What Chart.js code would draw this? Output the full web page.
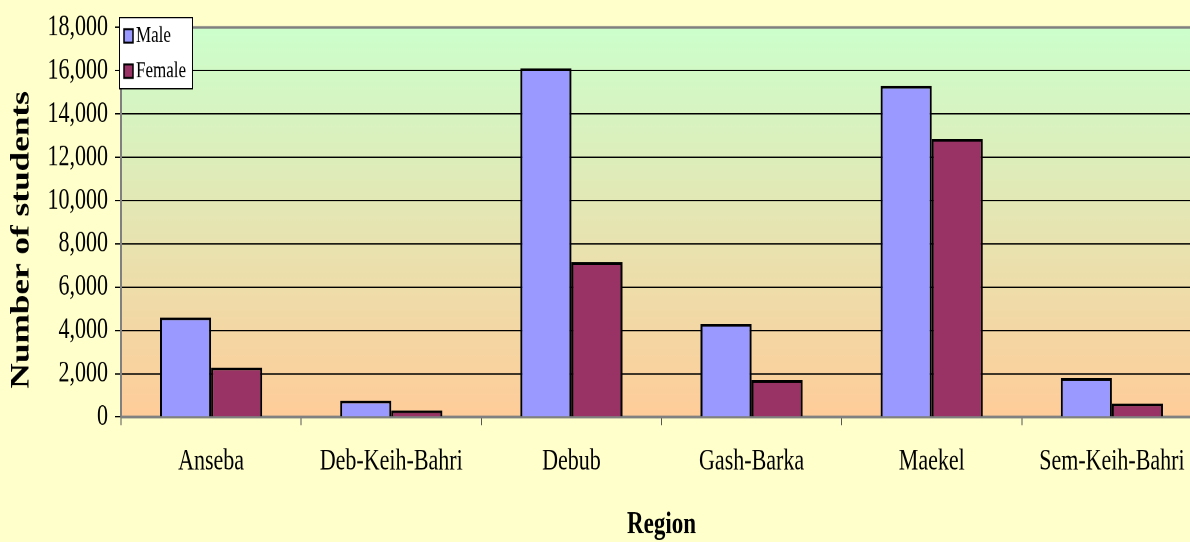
<!DOCTYPE html>
<html>
<head>
<meta charset="utf-8">
<script src="https://cdn.jsdelivr.net/npm/chart.js@4.4.1/dist/chart.umd.min.js"></script>
<style>
  html, body { margin: 0; padding: 0; background: #ffffcc; overflow: hidden; }
  #wrap { width: 1190px; height: 542px; overflow: hidden; }
</style>
</head>
<body>
<!-- chart is drawn on a shorter canvas and stretched vertically, like the original picture -->
<div id="wrap"><canvas id="chart" width="1202" height="400" style="width:1202px;height:542px"></canvas></div>
<script>
var regions = ['Anseba', 'Deb-Keih-Bahri', 'Debub', 'Gash-Barka', 'Maekel', 'Sem-Keih-Bahri'];
var male = [4600, 750, 16100, 4300, 15300, 1800];
var female = [2280, 300, 7150, 1700, 12850, 620];
var seriesNames = ['Male', 'Female'];
var yTicks = [0, 2000, 4000, 6000, 8000, 10000, 12000, 14000, 16000, 18000];
var yTitle = 'Number of students';

var serif = "'Liberation Serif', 'Times New Roman', serif";

// plot area background + grey frame
var plotArea = {
  id: 'plotArea',
  beforeDraw: function(chart) {
    var a = chart.chartArea, ctx = chart.ctx;
    var g = ctx.createLinearGradient(0, a.top, 0, a.bottom);
    g.addColorStop(0, '#ccffcc');
    g.addColorStop(1, '#ffcc99');
    ctx.save();
    ctx.fillStyle = g;
    ctx.fillRect(a.left, a.top, a.right - a.left, a.bottom - a.top);
    ctx.restore();
  },
  beforeDatasetsDraw: function(chart) {
    var a = chart.chartArea, ctx = chart.ctx;
    ctx.save();
    ctx.strokeStyle = '#808080';
    ctx.lineWidth = 2;
    ctx.beginPath();
    ctx.moveTo(a.left, a.bottom);
    ctx.lineTo(a.left, a.top);
    ctx.lineTo(a.right, a.top);
    ctx.moveTo(a.left, a.bottom);
    ctx.lineTo(a.right, a.bottom);
    ctx.stroke();
    ctx.restore();
  },
  // y title sits a bit lower than the scale's middle in the original
  afterDraw: function(chart) {
    var ctx = chart.ctx;
    ctx.save();
    ctx.translate(22, 177);
    ctx.rotate(-Math.PI / 2);
    ctx.font = 'bold 26px ' + serif;
    ctx.fillStyle = '#000';
    ctx.textAlign = 'center';
    ctx.textBaseline = 'middle';
    ctx.fillText(yTitle, 0, 0);
    ctx.restore();
  }
};

// small boxed legend sitting over the top-left corner of the plot
var boxLegend = {
  id: 'boxLegend',
  afterDraw: function(chart) {
    var ctx = chart.ctx;
    var x = 119, y = 12.5, w = 73, h = 52.5;
    ctx.save();
    ctx.fillStyle = '#ffffff';
    ctx.fillRect(x, y, w, h);
    ctx.strokeStyle = '#000';
    ctx.lineWidth = 1;
    ctx.strokeRect(x + 0.5, y + 0.5, w, h);
    ctx.font = '17px ' + serif;
    ctx.textBaseline = 'middle';
    chart.data.datasets.forEach(function(ds, i) {
      var cy = 26.5 + i * 26;
      ctx.fillStyle = ds.backgroundColor;
      ctx.fillRect(124, cy - 5, 9, 10);
      ctx.strokeStyle = '#000';
      ctx.lineWidth = 1.5;
      ctx.strokeRect(124, cy - 5, 9, 10);
      ctx.fillStyle = '#000';
      ctx.fillText(ds.label, 136, cy);
    });
    ctx.restore();
  }
};

new Chart(document.getElementById('chart'), {
  type: 'bar',
  data: {
    labels: regions,
    datasets: [
      { label: seriesNames[0], data: male, backgroundColor: '#9999ff', borderColor: '#000', borderWidth: 2 },
      { label: seriesNames[1], data: female, backgroundColor: '#993366', borderColor: '#000', borderWidth: 2 }
    ]
  },
  options: {
    responsive: false,
    devicePixelRatio: 2,
    animation: false,
    layout: { padding: { top: 17.7, right: 0, bottom: 0, left: 0 } },
    datasets: { bar: { categoryPercentage: 0.567, barPercentage: 1.0 } },
    plugins: { legend: { display: false }, tooltip: { enabled: false } },
    scales: {
      x: {
        grid: { display: true, offset: true, drawOnChartArea: false, tickLength: 6, color: '#555', tickColor: '#555', lineWidth: 1 },
        border: { display: false },
        ticks: { color: '#000', font: { family: serif, size: 22 }, padding: 14, maxRotation: 0 },
        title: { display: true, text: 'Region', color: '#000', font: { family: serif, size: 23, weight: 'bold', lineHeight: 1.1 }, padding: { top: 0, bottom: 0 } },
        afterFit: function(s) { s.height = 92.3; }
      },
      y: {
        min: 0,
        max: 18000,
        afterBuildTicks: function(s) { s.ticks = yTicks.map(function(v) { return { value: v }; }); },
        grid: { color: '#000', tickColor: '#000', tickLength: 6, lineWidth: 1 },
        border: { display: false },
        ticks: {
          color: '#000', font: { family: serif, size: 22 }, padding: 7,
          callback: function(v) { return v.toLocaleString('en-US'); }
        },
        title: { display: false },
        afterFit: function(s) { s.width = 121; }
      }
    }
  },
  plugins: [plotArea, boxLegend]
});
</script>
</body>
</html>
